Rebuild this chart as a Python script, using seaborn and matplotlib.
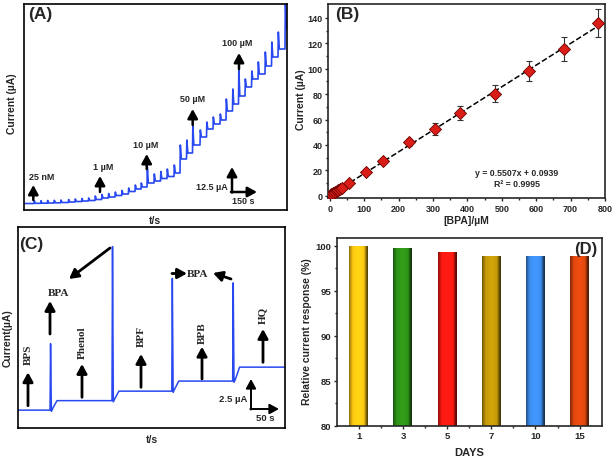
import numpy as np
import matplotlib
matplotlib.use("Agg")
import matplotlib.pyplot as plt
import seaborn as sns

# ---------------- data ----------------
# (A) amperometric staircase: injection times (s), baseline after each step (uA), spike peaks (uA)
a_base0 = 3.25
a_times = [60, 100, 140, 180, 220, 266, 306, 346, 386, 426, 466, 506, 546, 586, 626, 666, 702,
           738, 780, 819, 858, 900, 936, 975, 1011, 1056, 1095, 1134, 1176, 1212, 1251, 1287,
           1326, 1365, 1404, 1446, 1485, 1524, 1566]
a_base = [3.35, 3.4, 3.5, 3.6, 3.75, 4.0, 4.25, 4.5, 4.75, 5.25, 6.0, 6.5, 7.25, 8.0, 9.25, 10.5, 11.5,
          13.5, 14.5, 15.75, 16.75, 18.5, 25.5, 28.5, 32.5, 36.5, 40.5, 43.0, 45.0, 49.5, 53.0, 57.0,
          61.5, 65.5, 68.0, 72.0, 76.5, 80.5, 90.5]
a_peak = [4.6, 4.65, 4.75, 4.85, 5.0, 5.25, 5.5, 5.75, 6.0, 7.0, 7.75, 8.25, 9.0, 9.75, 11.0, 12.5, 13.5,
          21.5, 18.0, 19.25, 20.5, 22.5, 32.5, 35.0, 42.0, 40.0, 44.0, 46.5, 48.0, 55.5, 60.5, 70.5,
          65.5, 69.5, 74.0, 79.0, 84.0, 89.0, 106.0]
a_tend = 1578
a_labels = ["25 nM", "1 µM", "10 µM", "50 µM", "100 µM"]

# (B) calibration
conc = [0, 5, 10, 15, 20, 25, 30, 35, 55, 105, 155, 230, 305, 380, 480, 580, 680, 780]
current = [0, 1.0, 2.0, 2.6, 3.5, 4.4, 5.2, 6.0, 10, 19, 27.5, 42, 52.5, 65, 80.5, 98, 115.5, 136]
cur_err = [0.3, 0.3, 0.4, 0.4, 0.5, 0.5, 0.6, 0.6, 1.0, 1.5, 2.0, 2.5, 4.5, 5.3, 6.5, 8.0, 9.5, 11.0]
b_eq = "y = 0.5507x + 0.0939"
b_r2 = "R² = 0.9995"

# (C) interference study: BPA injection times (s), baselines (uA), spike peaks (uA)
c_times = [60, 176, 288, 402]
c_base = [1.6, 2.45, 3.3, 4.2, 5.45]
c_peak = [7.55, 16.25, 13.4, 13.0]
c_tend = 500
c_species = ["BPS", "Phenol", "BPF", "BPB", "HQ"]

# (D) stability
days = ["1", "3", "5", "7", "10", "15"]
stability = [100.0, 99.75, 99.25, 98.9, 98.85, 98.85]
bar_colors = ["#FFC812", "#2E9418", "#FF1A12", "#C49A08", "#3C8EF0", "#E0480E"]

# ---------------- style ----------------
sns.set_theme(style="ticks")
plt.rcParams["font.family"] = ["Liberation Sans", "DejaVu Sans"]
plt.rcParams["font.weight"] = "bold"
plt.rcParams["axes.labelweight"] = "bold"
plt.rcParams["axes.linewidth"] = 1.2
plt.rcParams["xtick.major.width"] = 1.0
plt.rcParams["ytick.major.width"] = 1.0

W, H = 614, 460
fig = plt.figure(figsize=(W / 100, H / 100), dpi=100)


def rect(l, t, r, b):
    return [l / W, 1 - b / H, (r - l) / W, (b - t) / H]


def ftext(x, y, s, **kw):
    kw.setdefault("ha", "center")
    kw.setdefault("va", "center")
    fig.text(x / W, 1 - y / H, s, **kw)


def farrow(x0, y0, x1, y1, lw=1.8, hl=0.55, hw=0.3):
    fig.add_artist(matplotlib.patches.FancyArrowPatch(
        (x0 / W, 1 - y0 / H), (x1 / W, 1 - y1 / H), transform=fig.transFigure,
        arrowstyle=f"-|>,head_length={hl},head_width={hw}", mutation_scale=10,
        lw=lw, color="black", shrinkA=0, shrinkB=0))


TRACE = "#2848F0"
SERIF = ["Liberation Serif", "DejaVu Serif"]

# ---------------- (A) ----------------
axA = fig.add_axes(rect(24, 5, 287, 211))
tA, iA = [0], [a_base0]
prev = a_base0
for t, p, b in zip(a_times, a_peak, a_base):
    tA += [t, t + 2, t + 8]
    iA += [prev, p, b]
    prev = b
tA.append(a_tend)
iA.append(prev)
sns.lineplot(x=tA, y=iA, ax=axA, estimator=None, sort=False, color=TRACE, lw=1.2)
axA.set_xlim(0, a_tend)
axA.set_ylim(0, 103)
axA.set_xticks([])
axA.set_yticks([])
axA.set_xlabel("")
axA.set_ylabel("")
for s in axA.spines.values():
    s.set_visible(True)
    s.set_color("black")

ftext(40, 15, "(A)", fontsize=12.5, weight="bold")
ftext(12, 104, "Current (µA)", rotation=90, fontsize=7.5)
ftext(155, 221, "t/s", fontsize=7.5)
a_lab_pos = [(42, 177), (103, 168), (146, 146), (193, 100), (237, 44)]
a_arr_pos = [(33.3, 201, 186), (100, 193, 177), (146.7, 170, 155), (192.7, 126, 110), (239, 70, 54)]
for lab, (lx, ly), (ax_, y0, y1) in zip(a_labels, a_lab_pos, a_arr_pos):
    ftext(lx, ly, lab, fontsize=6.5)
    farrow(ax_, y0, ax_, y1)
farrow(232, 193.5, 232, 168)
farrow(231, 193, 257, 193)
ftext(228, 188, "12.5 µA", fontsize=6.5, ha="right")
ftext(243, 202, "150 s", fontsize=6.5)

# ---------------- (B) ----------------
axB = fig.add_axes(rect(328.3, 5, 605, 199.3))
axB.set_xlim(-4, 800)
axB.set_ylim(-2, 151)
axB.errorbar(conc, current, yerr=cur_err, fmt="none", ecolor="#333333", elinewidth=0.8,
             capsize=2, capthick=0.8, zorder=2)
sns.regplot(x=conc, y=current, ax=axB, ci=None, scatter=False, truncate=True,
            line_kws=dict(ls="--", color="black", lw=1.1, zorder=2))
sns.scatterplot(x=conc, y=current, ax=axB, marker="D", s=38, color="#D81E17",
                edgecolor="#6a0000", linewidth=0.6, zorder=3)
axB.set_xticks(range(0, 801, 100))
axB.set_yticks(range(0, 141, 20))
axB.set_xticks(range(50, 800, 100), minor=True)
axB.set_yticks(range(10, 150, 20), minor=True)
axB.tick_params(axis="both", labelsize=6.5, length=2.5, pad=1.5)
axB.tick_params(which="minor", length=1.5)
for s in axB.spines.values():
    s.set_visible(True)
axB.set_xlabel("[BPA]/µM", fontsize=7.5)
axB.set_ylabel("Current (µA)", fontsize=7.5)
axB.xaxis.set_label_coords(466 / W, 1 - 216.5 / H, transform=fig.transFigure)
axB.yaxis.set_label_coords(306 / W, 1 - 100 / H, transform=fig.transFigure)
ftext(347, 15, "(B)", fontsize=12.5)
ftext(516.7, 173.3, b_eq, fontsize=6.3)
ftext(516.5, 184.5, b_r2, fontsize=6.3)

# ---------------- (C) ----------------
axC = fig.add_axes(rect(18, 228, 285, 429))
tC, iC = [0], [c_base[0]]
for k, (t, p) in enumerate(zip(c_times, c_peak)):
    b0, b1 = c_base[k], c_base[k + 1]
    tC += [t, t + 1, t + 2.5, t + 5, t + 13]
    iC += [b0, p, b0 - 0.1, b0 + 0.15, b1]
tC.append(c_tend)
iC.append(c_base[-1])
sns.lineplot(x=tC, y=iC, ax=axC, estimator=None, sort=False, color=TRACE, lw=1.1)
axC.set_xlim(0, c_tend)
axC.set_ylim(0, 18)
axC.set_xticks([])
axC.set_yticks([])
axC.set_xlabel("")
axC.set_ylabel("")
for s in axC.spines.values():
    s.set_visible(True)
    s.set_color("black")

ftext(31, 245, "(C)", fontsize=12.5)
ftext(8, 338, "Current(µA)", rotation=90, fontsize=7.5)
ftext(152, 440, "t/s", fontsize=7.5)
c_sp_pos = [(28, 355, 406.7, 373.3), (82, 343, 398.3, 365), (141, 336.7, 388.3, 355),
            (202, 333.3, 380, 347.7), (263, 315, 363.3, 330)]
for name, (x, ty, y0, y1) in zip(c_species, c_sp_pos):
    ftext(x, ty, name, rotation=90, fontsize=8, family=SERIF, weight="bold")
    farrow(x, y0, x, y1, lw=2.0)
farrow(50, 335, 50, 302, lw=2.0)
ftext(58, 293.5, "BPA", fontsize=8, family=SERIF, weight="bold")
farrow(110, 249, 69, 280, lw=2.0)
ftext(198, 274.5, "BPA", fontsize=8, family=SERIF, weight="bold")
farrow(172, 274.5, 187, 274.5, lw=2.0)
farrow(231, 280, 213, 274, lw=2.0)
farrow(251, 410.5, 251, 380, lw=1.4)
farrow(250.3, 410, 279, 410, lw=1.4)
ftext(247, 400, "2.5 µA", fontsize=6.8, ha="right")
ftext(265, 418.5, "50 s", fontsize=6.8)

# ---------------- (D) ----------------
axD = fig.add_axes(rect(336.7, 239, 601.7, 426.7))
sns.barplot(x=days, y=stability, hue=days, order=days, hue_order=days, palette=bar_colors,
            legend=False, width=0.43, saturation=1, ax=axD)
axD.set_ylim(80, 100.85)
axD.set_xlim(-0.5, 5.5)
# bevel shading on each bar
u = np.linspace(0, 1, 60)
shade = np.interp(u, [0, 0.08, 0.2, 0.5, 0.8, 0.9, 1.0], [0.55, 0.75, 1.0, 1.08, 1.0, 0.55, 0.3])
for patch, col in zip(axD.patches, bar_colors):
    x0, _ = patch.get_xy()
    w = patch.get_width()
    h = patch.get_height()
    rgb = np.array(matplotlib.colors.to_rgb(col))
    img = np.clip(rgb[None, :] * shade[:, None], 0, 1)[None, :, :]
    im = axD.imshow(img, extent=[x0, x0 + w, 80, h], aspect="auto", zorder=patch.get_zorder() + 0.1,
                    interpolation="bilinear")
    im.set_clip_path(patch)
    patch.set_edgecolor("none")
axD.set_ylim(80, 100.85)
axD.set_xlim(-0.5, 5.5)
axD.set_yticks([80, 85, 90, 95, 100])
axD.set_yticks([82.5, 87.5, 92.5, 97.5], minor=True)
axD.set_xticks([0.5, 1.5, 2.5, 3.5, 4.5], minor=True)
axD.tick_params(axis="both", labelsize=6.8, length=2.5, pad=1.5)
axD.tick_params(which="minor", length=1.5)
for s in axD.spines.values():
    s.set_visible(True)
axD.set_xlabel("DAYS", fontsize=8)
axD.set_ylabel("Relative current response (%)", fontsize=7.5)
axD.xaxis.set_label_coords(469 / W, 1 - 448 / H, transform=fig.transFigure)
axD.yaxis.set_label_coords(312 / W, 1 - 332 / H, transform=fig.transFigure)
ftext(586, 250, "(D)", fontsize=12)

fig.savefig("out.png", dpi=100)
